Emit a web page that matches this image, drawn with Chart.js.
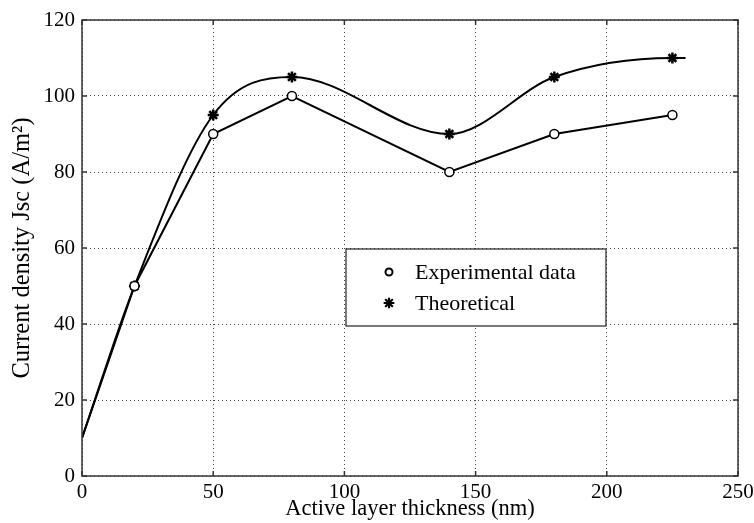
<!DOCTYPE html>
<html><head><meta charset="utf-8">
<script src="https://cdn.jsdelivr.net/npm/chart.js@4/dist/chart.umd.min.js"></script>
<style>html,body{margin:0;padding:0;background:#fff}#wrap{width:754px;height:523px;position:relative}</style>
</head><body><div id="wrap"><canvas id="c" width="754" height="523"></canvas></div>
<script>
// ---- data ----
const expThickness = [0, 20, 50, 80, 140, 180, 225];
const expJsc = [10, 50, 90, 100, 80, 90, 95];
const expMarkerShown = [false, true, true, true, true, true, true];
const theoThickness = [0, 20, 50, 80, 140, 180, 225, 230];
const theoJsc = [10, 50, 95, 105, 90, 105, 110, 110];
const theoMarkerShown = [false, true, true, true, true, true, true, false];
const xTicks = [0, 50, 100, 150, 200, 250];
const yTicks = [0, 20, 40, 60, 80, 100, 120];
const seriesLabels = ['Experimental data', 'Theoretical'];
const xTitle = 'Active layer thickness (nm)';
const yTitle = 'Current density Jsc (A/m\u00B2)';

const FONT = "'Liberation Serif', 'Times New Roman', serif";

function drawStar(ctx, x, y, r, lw) {
  ctx.save();
  ctx.lineWidth = lw;
  ctx.strokeStyle = '#000';
  ctx.lineCap = 'round';
  ctx.beginPath();
  for (let i = 0; i < 4; i++) {
    const a = i * Math.PI / 4;
    ctx.moveTo(x - r * Math.cos(a), y - r * Math.sin(a));
    ctx.lineTo(x + r * Math.cos(a), y + r * Math.sin(a));
  }
  ctx.stroke();
  ctx.restore();
}

const framePlugin = {
  id: 'frame',
  afterDatasetsDraw(chart) {
    const {ctx, chartArea: a, scales} = chart;
    ctx.save();
    ctx.strokeStyle = '#333';
    ctx.lineWidth = 1.5;
    ctx.strokeRect(a.left, a.top, a.right - a.left, a.bottom - a.top);
    ctx.beginPath();
    const L = 5;
    xTicks.forEach(v => {
      const px = scales.x.getPixelForValue(v);
      ctx.moveTo(px, a.bottom); ctx.lineTo(px, a.bottom - L);
      ctx.moveTo(px, a.top); ctx.lineTo(px, a.top + L);
    });
    yTicks.forEach(v => {
      const py = scales.y.getPixelForValue(v);
      ctx.moveTo(a.left, py); ctx.lineTo(a.left + L, py);
      ctx.moveTo(a.right, py); ctx.lineTo(a.right - L, py);
    });
    ctx.stroke();
    ctx.restore();
  }
};

const legendPlugin = {
  id: 'boxLegend',
  afterDraw(chart) {
    const {ctx} = chart;
    const bx = 346, by = 249, bw = 260, bh = 77;
    ctx.save();
    ctx.fillStyle = '#fff';
    ctx.fillRect(bx, by, bw, bh);
    ctx.strokeStyle = '#222';
    ctx.lineWidth = 1.2;
    ctx.strokeRect(bx, by, bw, bh);
    ctx.font = '22px ' + FONT;
    ctx.fillStyle = '#000';
    ctx.textBaseline = 'middle';
    ctx.textAlign = 'left';
    const rows = [by + 23, by + 54];
    ctx.beginPath();
    ctx.lineWidth = 2;
    ctx.strokeStyle = '#000';
    ctx.arc(bx + 43, rows[0], 3.5, 0, Math.PI * 2);
    ctx.stroke();
    ctx.fillText(chart.data.datasets[0].label, bx + 69, rows[0] + 1);
    drawStar(ctx, bx + 43, rows[1], 4.5, 2.2);
    ctx.fillText(chart.data.datasets[1].label, bx + 69, rows[1] + 1);
    ctx.restore();
  }
};

const toPoints = (xs, ys) => xs.map((x, i) => ({x, y: ys[i]}));

new Chart(document.getElementById('c'), {
  type: 'line',
  data: {
    datasets: [
      {
        label: seriesLabels[0],
        data: toPoints(expThickness, expJsc),
        borderColor: '#000',
        borderWidth: 2,
        tension: 0,
        pointStyle: 'circle',
        pointRadius: c => expMarkerShown[c.dataIndex] ? 4.5 : 0,
        pointBackgroundColor: '#fff',
        pointBorderColor: '#000',
        pointBorderWidth: 1.5
      },
      {
        label: seriesLabels[1],
        data: toPoints(theoThickness, theoJsc),
        borderColor: '#000',
        borderWidth: 2,
        cubicInterpolationMode: 'monotone',
        pointStyle: 'star',
        pointRadius: c => theoMarkerShown[c.dataIndex] ? 5.5 : 0,
        pointBackgroundColor: '#000',
        pointBorderColor: '#000',
        pointBorderWidth: 2.5
      }
    ]
  },
  options: {
    responsive: false,
    animation: false,
    devicePixelRatio: 1,
    layout: {padding: {top: 20, right: 16, left: 0, bottom: 0}},
    plugins: {legend: {display: false}, tooltip: {enabled: false}},
    scales: {
      x: {
        type: 'linear', min: 0, max: 250,
        afterBuildTicks: s => { s.ticks = xTicks.map(v => ({value: v})); },
        afterFit: s => { s.height = 47; s.paddingRight = 0; s.paddingLeft = 0; },
        grid: {color: '#444', lineWidth: 1, drawTicks: false},
        border: {display: false, dash: [1, 3]},
        ticks: {color: '#000', font: {family: FONT, size: 21}, padding: 4, maxRotation: 0},
        title: {display: true, text: xTitle, color: '#000', font: {family: FONT, size: 22.5}, padding: {top: 0, bottom: 0}}
      },
      y: {
        type: 'linear', min: 0, max: 120,
        afterBuildTicks: s => { s.ticks = yTicks.map(v => ({value: v})); },
        afterFit: s => { s.width = 82; s.paddingTop = 0; s.paddingBottom = 0; },
        grid: {color: '#444', lineWidth: 1, drawTicks: false},
        border: {display: false, dash: [1, 3]},
        ticks: {color: '#000', font: {family: FONT, size: 21}, padding: 7},
        title: {display: true, text: yTitle, color: '#000', font: {family: FONT, size: 24.5}, padding: {top: 8, bottom: 0}}
      }
    }
  },
  plugins: [framePlugin, legendPlugin]
});
</script>
</body></html>
